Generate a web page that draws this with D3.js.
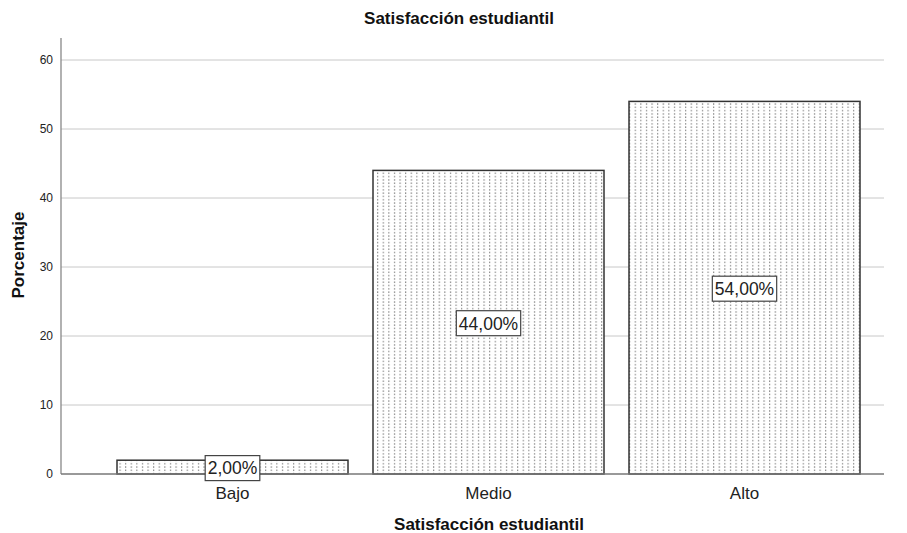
<!DOCTYPE html>
<html>
<head>
<meta charset="utf-8">
<script src="https://cdn.jsdelivr.net/npm/d3@7"></script>
<style>
  html, body { margin: 0; padding: 0; background: #fff; }
  svg { display: block; font-family: "Liberation Sans", Arial, sans-serif; }
</style>
</head>
<body>
<svg id="chart" width="907" height="533"></svg>
<script>
// Satisfacción estudiantil — distribución porcentual
const categories = ["Bajo", "Medio", "Alto"];
const percentages = [2, 44, 54];
const yTicks = [0, 10, 20, 30, 40, 50, 60];
const valueLabels = ["2,00%", "44,00%", "54,00%"];

const svg = d3.select("#chart");

const plotLeft = 61, plotRight = 884, plotTop = 38, plotBottom = 474;

const y = d3.scaleLinear().domain([0, 60]).range([plotBottom, 60]);

const x = d3.scaleBand()
  .domain(categories)
  .range([104.5, 872.5])
  .paddingInner(25 / 256)
  .paddingOuter(12.5 / 256);

// dotted fill
const defs = svg.append("defs");
const pat = defs.append("pattern")
  .attr("id", "dots")
  .attr("patternUnits", "userSpaceOnUse")
  .attr("width", 5.6)
  .attr("height", 3.3);
pat.append("rect").attr("width", 5.6).attr("height", 3.3).attr("fill", "#fff");
pat.append("rect").attr("x", 2).attr("y", 1).attr("width", 1).attr("height", 1.5).attr("fill", "#777");

// gridlines
svg.append("g")
  .selectAll("line")
  .data(yTicks.filter(d => d > 0))
  .join("line")
  .attr("x1", plotLeft).attr("x2", plotRight)
  .attr("y1", d => y(d)).attr("y2", d => y(d))
  .attr("stroke", "#c8c8c8").attr("stroke-width", 1);

// y axis
const yAxis = svg.append("g")
  .attr("transform", `translate(${plotLeft},0)`)
  .call(d3.axisLeft(y).tickValues(yTicks).tickSize(0).tickPadding(8).tickFormat(d3.format("d")));
yAxis.select(".domain").remove();
yAxis.selectAll("text").attr("font-size", 12).attr("fill", "#222");
svg.append("line")
  .attr("x1", plotLeft).attr("x2", plotLeft)
  .attr("y1", plotTop).attr("y2", plotBottom)
  .attr("stroke", "#888").attr("stroke-width", 1.3);

// bars
svg.append("g")
  .selectAll("rect")
  .data(categories.map((c, i) => ({ c, v: percentages[i] })))
  .join("rect")
  .attr("x", d => x(d.c))
  .attr("y", d => y(d.v))
  .attr("width", x.bandwidth())
  .attr("height", d => y(0) - y(d.v))
  .attr("fill", "url(#dots)")
  .attr("stroke", "#333")
  .attr("stroke-width", 1.5);

// x baseline
svg.append("line")
  .attr("x1", plotLeft).attr("x2", plotRight)
  .attr("y1", plotBottom).attr("y2", plotBottom)
  .attr("stroke", "#777").attr("stroke-width", 1.3);

// x axis labels
svg.append("g")
  .selectAll("text")
  .data(categories)
  .join("text")
  .attr("x", d => x(d) + x.bandwidth() / 2)
  .attr("y", 499)
  .attr("text-anchor", "middle")
  .attr("font-size", 17)
  .attr("fill", "#222")
  .text(d => d);

// value labels with boxes
const lbl = svg.append("g")
  .selectAll("g")
  .data(categories.map((c, i) => ({ c, v: percentages[i], t: valueLabels[i] })))
  .join("g")
  .attr("transform", d => `translate(${x(d.c) + x.bandwidth() / 2},${y(d.v / 2) + 1})`);
lbl.append("text")
  .attr("text-anchor", "middle")
  .attr("dy", "0.36em")
  .attr("font-size", 17.5)
  .attr("fill", "#222")
  .text(d => d.t);
lbl.each(function () {
  const g = d3.select(this);
  const bb = g.select("text").node().getBBox();
  g.insert("rect", "text")
    .attr("x", bb.x - 2.5)
    .attr("y", -12.5)
    .attr("width", bb.width + 5)
    .attr("height", 25)
    .attr("fill", "#fff")
    .attr("stroke", "#444")
    .attr("stroke-width", 1.2);
});

// titles
svg.append("text")
  .attr("x", 459).attr("y", 24)
  .attr("text-anchor", "middle")
  .attr("font-size", 17).attr("font-weight", "bold").attr("fill", "#111")
  .text("Satisfacción estudiantil");

svg.append("text")
  .attr("x", 489).attr("y", 530)
  .attr("text-anchor", "middle")
  .attr("font-size", 17).attr("font-weight", "bold").attr("fill", "#111")
  .text("Satisfacción estudiantil");

svg.append("text")
  .attr("transform", `translate(24,255) rotate(-90)`)
  .attr("text-anchor", "middle")
  .attr("font-size", 17).attr("font-weight", "bold").attr("fill", "#111")
  .text("Porcentaje");
</script>
</body>
</html>
